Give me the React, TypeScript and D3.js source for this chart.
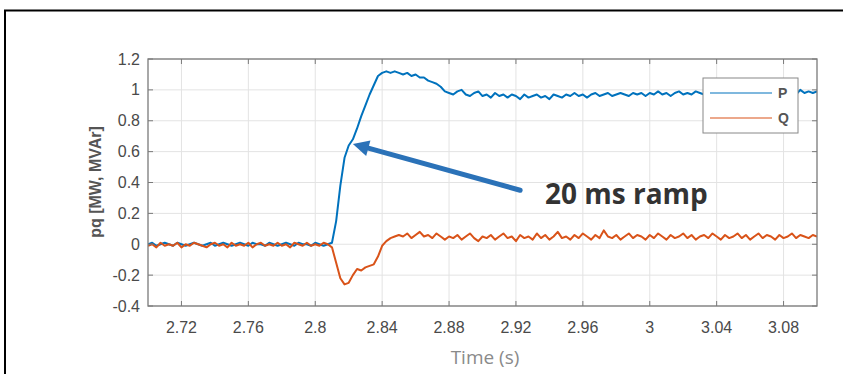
import React from "react";
import * as d3 from "d3";

// Sample time base: 2.700 s to 3.100 s in 2.5 ms steps
const T0 = 2.7;
const DT = 0.0025;

// Active power P [MW]
const pValues = [
  0.00, 0.01, -0.01, 0.00, 0.01, 0.00, -0.01, 0.01, 0.00, -0.01,
  0.00, 0.01, 0.00, -0.01, 0.00, 0.01, -0.01, 0.00, 0.01, 0.00,
  -0.01, 0.00, 0.01, 0.00, -0.01, 0.01, 0.00, 0.00, -0.01, 0.01,
  0.00, -0.01, 0.00, 0.01, 0.00, -0.01, 0.01, 0.00, 0.00, -0.01,
  0.01, 0.00, -0.01, 0.00,
  0.01, 0.15, 0.38, 0.56, 0.64, 0.68, 0.75, 0.83, 0.90, 0.97, 1.03, 1.09, 1.11, 1.12, 1.11, 1.12, 1.11,
  1.10, 1.11, 1.09, 1.10, 1.08, 1.08, 1.06, 1.05, 1.04, 1.02, 0.99, 0.98,
  0.97, 0.99, 1.00, 0.97, 0.96, 0.98, 0.99, 0.96, 0.97, 0.95,
  0.98, 0.96, 0.97, 0.95, 0.97, 0.96, 0.94, 0.97, 0.95, 0.96,
  0.97, 0.95, 0.96, 0.94, 0.97, 0.96, 0.95, 0.97, 0.96, 0.98,
  0.96, 0.97, 0.95, 0.97, 0.98, 0.96, 0.97, 0.98, 0.96, 0.97,
  0.98, 0.97, 0.96, 0.98, 0.97, 0.98, 0.96, 0.98, 0.97, 0.99,
  0.97, 0.98, 0.96, 0.98, 0.99, 0.97, 0.98, 0.97, 0.99, 0.98,
  0.97, 0.99, 0.98, 0.97, 0.99, 0.98, 0.98, 0.97, 0.99, 0.98,
  0.98, 0.99, 0.97, 0.98, 0.99, 0.98, 0.97, 0.99, 0.98, 0.99,
  0.98, 0.99, 0.97, 1.00, 0.98, 0.99, 0.98, 0.99,
];

// Reactive power Q [MVAr]
const qValues = [
  -0.01, 0.00, -0.02, 0.01, -0.01, 0.00, -0.01, 0.01, -0.02, 0.00,
  -0.01, 0.01, 0.00, -0.01, -0.02, 0.00, 0.01, -0.01, 0.00, -0.02,
  0.01, -0.01, 0.00, -0.01, 0.01, -0.02, 0.00, 0.01, -0.01, 0.00,
  -0.01, 0.01, -0.01, 0.00, -0.02, 0.01, 0.00, -0.01, 0.01, -0.01,
  0.00, -0.01, 0.01, 0.00,
  -0.02, -0.12, -0.22, -0.26, -0.25, -0.20, -0.16, -0.17, -0.15, -0.14, -0.13, -0.08, -0.01, 0.02, 0.04, 0.05, 0.06,
  0.05, 0.07, 0.04, 0.06, 0.08, 0.05, 0.06, 0.04, 0.07, 0.05,
  0.03, 0.05, 0.04, 0.06, 0.03, 0.05, 0.07, 0.04, 0.02, 0.05,
  0.04, 0.06, 0.03, 0.05, 0.07, 0.04, 0.05, 0.02, 0.06, 0.04,
  0.05, 0.03, 0.07, 0.04, 0.06, 0.03, 0.05, 0.08, 0.04, 0.05,
  0.03, 0.06, 0.04, 0.07, 0.05, 0.03, 0.06, 0.04, 0.09, 0.05,
  0.04, 0.06, 0.03, 0.05, 0.07, 0.04, 0.06, 0.05, 0.03, 0.06,
  0.04, 0.07, 0.05, 0.03, 0.06, 0.04, 0.05, 0.07, 0.04, 0.06,
  0.03, 0.05, 0.06, 0.04, 0.07, 0.05, 0.03, 0.06, 0.04, 0.05,
  0.07, 0.04, 0.06, 0.03, 0.05, 0.07, 0.04, 0.06, 0.05, 0.03,
  0.06, 0.04, 0.05, 0.07, 0.04, 0.06, 0.05, 0.04, 0.06, 0.05,
];

const xTicks = [2.72, 2.76, 2.8, 2.84, 2.88, 2.92, 2.96, 3.0, 3.04, 3.08];
const xTickLabels = ["2.72", "2.76", "2.8", "2.84", "2.88", "2.92", "2.96", "3", "3.04", "3.08"];
const yTicks = [-0.4, -0.2, 0, 0.2, 0.4, 0.6, 0.8, 1, 1.2];
const yTickLabels = ["-0.4", "-0.2", "0", "0.2", "0.4", "0.6", "0.8", "1", "1.2"];

const seriesNames = ["P", "Q"];
const seriesColors = ["#0072BD", "#D95319"];

// Annotation: arrow points at the ramp (time, value) from the label
const arrowTip = { t: 2.8225, v: 0.65 };
const arrowTail = { t: 2.9225, v: 0.35 };

const W = 843;
const H = 374;
const plot = { left: 148, right: 817, top: 59, bottom: 306 };

export default function App() {
  const x = d3.scaleLinear().domain([2.7, 3.1]).range([plot.left, plot.right]);
  const y = d3.scaleLinear().domain([-0.4, 1.2]).range([plot.bottom, plot.top]);

  const times = pValues.map((_, i) => T0 + i * DT);
  const line = d3
    .line<number>()
    .x((_, i) => x(times[i]))
    .y((d) => y(d));

  const tickFont = "'Liberation Sans', Arial, sans-serif";
  const tickColor = "#4a4a4a";
  const tickLen = 5;

  const tipX = x(arrowTip.t);
  const tipY = y(arrowTip.v);
  const tailX = x(arrowTail.t);
  const tailY = y(arrowTail.v);
  const ang = Math.atan2(tipY - tailY, tipX - tailX);
  const headLen = 16;
  const headHalf = 8;
  const baseX = tipX - headLen * Math.cos(ang);
  const baseY = tipY - headLen * Math.sin(ang);
  const nx = -Math.sin(ang);
  const ny = Math.cos(ang);
  const head = [
    [tipX, tipY],
    [baseX + nx * headHalf, baseY + ny * headHalf],
    [baseX - nx * headHalf, baseY - ny * headHalf],
  ]
    .map((p) => p.join(","))
    .join(" ");

  const legend = { x: 703, y: 78, w: 95, h: 55 };

  return (
    <svg
      width={W}
      height={H}
      style={{ position: "absolute", left: 0, top: 0, background: "#fff" }}
    >
      {/* outer frame */}
      <path d={`M5,${H} V10.5 H${W}`} fill="none" stroke="#000" strokeWidth={2} />

      {/* grid */}
      <g stroke="#e3e3e3" strokeWidth={1}>
        {xTicks.map((t) => (
          <line key={"gx" + t} x1={x(t)} x2={x(t)} y1={plot.top} y2={plot.bottom} />
        ))}
        {yTicks.map((t) => (
          <line key={"gy" + t} x1={plot.left} x2={plot.right} y1={y(t)} y2={y(t)} />
        ))}
      </g>

      {/* series */}
      <defs>
        <clipPath id="plotClip">
          <rect x={plot.left} y={plot.top} width={plot.right - plot.left} height={plot.bottom - plot.top} />
        </clipPath>
      </defs>
      <g clipPath="url(#plotClip)" fill="none" strokeWidth={2} strokeLinejoin="round">
        <path d={line(pValues) || ""} stroke={seriesColors[0]} />
        <path d={line(qValues) || ""} stroke={seriesColors[1]} />
      </g>

      {/* axes box and ticks */}
      <rect
        x={plot.left}
        y={plot.top}
        width={plot.right - plot.left}
        height={plot.bottom - plot.top}
        fill="none"
        stroke="#7a7a7a"
        strokeWidth={1.3}
      />
      <g stroke="#7a7a7a" strokeWidth={1}>
        {xTicks.map((t) => (
          <g key={"tx" + t}>
            <line x1={x(t)} x2={x(t)} y1={plot.bottom} y2={plot.bottom - tickLen} />
            <line x1={x(t)} x2={x(t)} y1={plot.top} y2={plot.top + tickLen} />
          </g>
        ))}
        {yTicks.map((t) => (
          <g key={"ty" + t}>
            <line x1={plot.left} x2={plot.left + tickLen} y1={y(t)} y2={y(t)} />
            <line x1={plot.right} x2={plot.right - tickLen} y1={y(t)} y2={y(t)} />
          </g>
        ))}
      </g>

      {/* tick labels */}
      <g fontFamily={tickFont} fontSize={16} fill={tickColor}>
        {xTicks.map((t, i) => (
          <text key={"lx" + t} x={x(t)} y={333} textAnchor="middle">
            {xTickLabels[i]}
          </text>
        ))}
        {yTicks.map((t, i) => (
          <text key={"ly" + t} x={140} y={y(t)} dy="0.35em" textAnchor="end">
            {yTickLabels[i]}
          </text>
        ))}
      </g>

      {/* axis titles */}
      <text
        x={485}
        y={364}
        textAnchor="middle"
        fontFamily="'Open Sans', sans-serif"
        fontSize={19}
        fill="#8a8a8a"
      >
        Time (s)
      </text>
      <text
        transform={`translate(101,182) rotate(-90)`}
        textAnchor="middle"
        fontFamily={tickFont}
        fontWeight="bold"
        fontSize={16}
        fill="#555"
      >
        pq [MW, MVAr]
      </text>

      {/* legend */}
      <rect x={legend.x} y={legend.y} width={legend.w} height={legend.h} fill="#fff" stroke="#888" strokeWidth={1} />
      {seriesNames.map((name, i) => (
        <g key={name}>
          <line
            x1={legend.x + 7}
            x2={legend.x + 69}
            y1={legend.y + 15 + i * 25}
            y2={legend.y + 15 + i * 25}
            stroke={seriesColors[i]}
            strokeWidth={1.2}
          />
          <text
            x={legend.x + 75}
            y={legend.y + 15 + i * 25}
            dy="0.35em"
            fontFamily={tickFont}
            fontWeight="bold"
            fontSize={14}
            fill="#555"
          >
            {name}
          </text>
        </g>
      ))}

      {/* annotation */}
      <line x1={tailX} y1={tailY} x2={baseX} y2={baseY} stroke="#2b72b8" strokeWidth={5} strokeLinecap="round" />
      <polygon points={head} fill="#2b72b8" />
      <text
        x={545}
        y={204}
        fontFamily="'Open Sans', sans-serif"
        fontWeight="bold"
        fontSize={28}
        fill="#333"
      >
        20 ms ramp
      </text>
    </svg>
  );
}
